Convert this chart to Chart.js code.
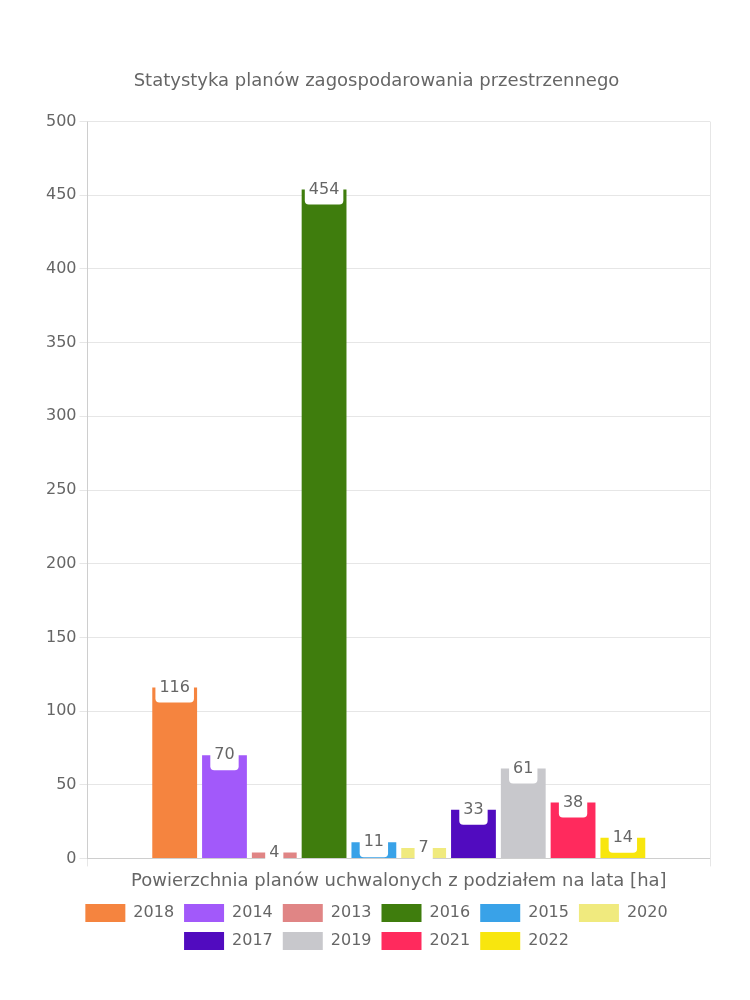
<!DOCTYPE html>
<html>
<head>
<meta charset="utf-8">
<script src="https://cdn.jsdelivr.net/npm/chart.js@4/dist/chart.umd.min.js"></script>
<style>
    html, body { margin: 0; padding: 0; background: #fff; }
    #wrap { width: 750px; height: 1000px; position: relative; }
</style>
</head>
<body>
<div id="wrap"><canvas id="chart"></canvas></div>
<script>
const years = ['2018', '2014', '2013', '2016', '2015', '2020', '2017', '2019', '2021', '2022'];
const areas = [116, 70, 4, 454, 11, 7, 33, 61, 38, 14];
const colors = ['#f5843f', '#a259fa', '#e08585', '#3f7d0d', '#39a2e8', '#f0ea7e', '#510bbf', '#c8c8cc', '#ff2a5d', '#f8e60e'];
const categories = [''];

const fontFamily = "'DejaVu Sans', sans-serif";
const textColor = '#666';

// white rounded value boxes sitting on top of each bar
const valueBoxes = {
    id: 'valueBoxes',
    afterDatasetsDraw(chart) {
        const ctx = chart.ctx;
        ctx.save();
        ctx.font = `16px ${fontFamily}`;
        ctx.textAlign = 'center';
        ctx.textBaseline = 'middle';
        chart.data.datasets.forEach((ds, i) => {
            const meta = chart.getDatasetMeta(i);
            meta.data.forEach((bar, j) => {
                const text = String(ds.data[j]);
                const w = ctx.measureText(text).width + 8;
                const h = 30;
                ctx.fillStyle = '#fff';
                ctx.beginPath();
                ctx.roundRect(bar.x - w / 2, bar.y - h / 2, w, h, 4);
                ctx.fill();
                ctx.fillStyle = textColor;
                ctx.fillText(text, bar.x, bar.y);
            });
        });
        ctx.restore();
    },
};

new Chart(document.getElementById('chart'), {
    type: 'bar',
    data: {
        labels: categories,
        datasets: years.map((y, i) => ({
            label: y,
            data: [areas[i]],
            backgroundColor: colors[i],
        })),
    },
    options: {
        responsive: true,
        maintainAspectRatio: false,
        animation: false,
        layout: { padding: { top: 62, left: 43, right: 40, bottom: 40 } },
        plugins: {
            title: {
                display: true,
                text: 'Statystyka planów zagospodarowania przestrzennego',
                color: textColor,
                font: { family: fontFamily, size: 18, weight: 'normal' },
                padding: { top: 9, bottom: 29 },
            },
            legend: {
                position: 'bottom',
                labels: {
                    color: textColor,
                    font: { family: fontFamily, size: 16 },
                    boxWidth: 40,
                    boxHeight: 18,
                    padding: 10,
                },
            },
            tooltip: { enabled: false },
        },
        scales: {
            x: {
                grid: { color: '#e6e6e6' },
                ticks: { display: false },
                title: {
                    display: true,
                    text: 'Powierzchnia planów uchwalonych z podziałem na lata [ha]',
                    color: textColor,
                    font: { family: fontFamily, size: 18 },
                    padding: { top: 4, bottom: 2 },
                },
            },
            y: {
                min: 0,
                max: 500,
                ticks: {
                    stepSize: 50,
                    color: textColor,
                    font: { family: fontFamily, size: 16 },
                },
                grid: { color: '#e6e6e6' },
            },
        },
    },
    plugins: [valueBoxes],
});
</script>
</body>
</html>
